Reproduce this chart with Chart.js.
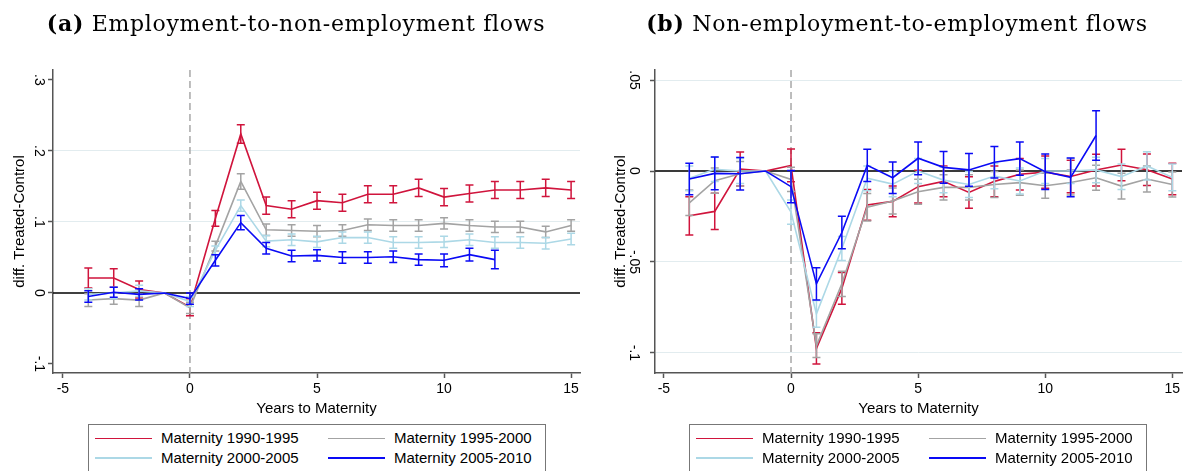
<!DOCTYPE html>
<html>
<head>
<meta charset="utf-8">
<script src="https://cdn.jsdelivr.net/npm/chart.js@4.4.1/dist/chart.umd.min.js"></script>
<style>
  html, body { margin: 0; padding: 0; background: #fff; }
  #wrap { position: relative; width: 1192px; height: 471px; overflow: hidden; background: #fff; }
  canvas { position: absolute; top: 0; }
  .ttl { position: absolute; top: 10px; font-family: "DejaVu Serif", serif; font-size: 22px; letter-spacing: 0.7px;
         white-space: nowrap; transform: translateX(-50%); color: #000; }
  .ttl b { font-weight: bold; }
  .lg { position: absolute; top: 424px; width: 458px; height: 60px; border: 1px solid #777;
        box-sizing: border-box; background: #fff;
        font-family: "Liberation Sans", Arial, sans-serif; font-size: 15px; color: #000; }
  .it { position: absolute; height: 18px; line-height: 18px; white-space: nowrap; }
  .sw { display: inline-block; width: 57px; height: 0; border-top: 1.5px solid; vertical-align: middle;
        margin-right: 9px; position: relative; top: -1px; }
</style>
</head>
<body>
<div id="wrap">
  <canvas id="chartA" width="596" height="471" style="left:0px"></canvas>
  <canvas id="chartB" width="596" height="471" style="left:596px"></canvas>
  <div class="ttl" style="left:296px"><b>(a)</b> Employment-to-non-employment flows</div>
  <div class="ttl" style="left:897px"><b>(b)</b> Non-employment-to-employment flows</div>
  <div class="lg" id="legendA" style="left:88px"></div>
  <div class="lg" id="legendB" style="left:689px"></div>
</div>
<script>
// Event-time grid (years relative to maternity)
const years = [-4, -3, -2, -1, 0, 1, 2, 3, 4, 5, 6, 7, 8, 9, 10, 11, 12, 13, 14, 15];
const seriesLabels = ['Maternity 1990-1995', 'Maternity 1995-2000', 'Maternity 2000-2005', 'Maternity 2005-2010'];
const xTickValues = [-5, 0, 5, 10, 15];

// (a) Employment-to-non-employment: point estimates and 95% CI half-widths
const enEst9095 = [0.021, 0.021, 0.005, 0, -0.020, 0.105, 0.224, 0.123, 0.118, 0.130, 0.127, 0.139, 0.139, 0.148, 0.135, 0.140, 0.145, 0.145, 0.148, 0.145];
const enCi9095  = [0.014, 0.013, 0.012, 0, 0.012, 0.011, 0.013, 0.012, 0.012, 0.012, 0.012, 0.012, 0.012, 0.012, 0.012, 0.012, 0.012, 0.012, 0.012, 0.012];
const enEst9500 = [-0.010, -0.008, -0.010, 0, -0.021, 0.066, 0.157, 0.089, 0.088, 0.087, 0.088, 0.096, 0.095, 0.095, 0.098, 0.095, 0.093, 0.093, 0.086, 0.095];
const enCi9500  = [0.009, 0.008, 0.009, 0, 0.008, 0.007, 0.011, 0.008, 0.008, 0.008, 0.008, 0.008, 0.008, 0.008, 0.008, 0.008, 0.008, 0.008, 0.008, 0.008];
const enEst0005 = [-0.002, 0.000, 0.003, 0, -0.012, 0.060, 0.123, 0.073, 0.075, 0.072, 0.078, 0.078, 0.071, 0.071, 0.072, 0.075, 0.071, 0.071, 0.070, 0.076];
const enCi0005  = [0.008, 0.008, 0.008, 0, 0.007, 0.006, 0.008, 0.008, 0.008, 0.008, 0.008, 0.008, 0.008, 0.008, 0.008, 0.008, 0.008, 0.008, 0.008, 0.008];
const enEst0510 = [-0.005, 0.001, -0.002, 0, -0.008, 0.046, 0.099, 0.063, 0.052, 0.053, 0.050, 0.050, 0.051, 0.047, 0.046, 0.054, 0.047];
const enCi0510  = [0.008, 0.007, 0.008, 0, 0.008, 0.008, 0.010, 0.008, 0.008, 0.008, 0.008, 0.008, 0.008, 0.008, 0.009, 0.009, 0.013];

// (b) Non-employment-to-employment: point estimates and 95% CI half-widths
const neEst9095 = [-0.0246, -0.0222, 0.0011, 0, 0.0031, -0.0975, -0.0645, -0.0186, -0.0167, -0.0086, -0.0057, -0.0118, -0.0057, -0.0018, -0.0006, -0.0030, 0.0005, 0.0033, 0.0007, -0.0044];
const neCi9095  = [0.0105, 0.0100, 0.0093, 0, 0.0090, 0.0086, 0.0087, 0.0085, 0.0085, 0.0090, 0.0085, 0.0087, 0.0085, 0.0087, 0.0089, 0.0089, 0.0087, 0.0086, 0.0087, 0.0087];
const neEst9500 = [-0.0175, -0.0053, -0.0015, 0, -0.0046, -0.0960, -0.0620, -0.0199, -0.0165, -0.0114, -0.0090, -0.0090, -0.0074, -0.0064, -0.0081, -0.0063, -0.0037, -0.0083, -0.0044, -0.0074];
const neCi9500  = [0.0070, 0.0069, 0.0067, 0, 0.0067, 0.0065, 0.0069, 0.0076, 0.0071, 0.0069, 0.0069, 0.0069, 0.0071, 0.0069, 0.0069, 0.0069, 0.0069, 0.0071, 0.0071, 0.0069];
const neEst0005 = [-0.0040, 0.0009, 0.0000, 0, -0.0226, -0.0785, -0.0426, -0.0040, -0.0072, 0.0000, -0.0050, -0.0074, -0.0028, -0.0055, 0.0000, 0.0000, 0.0006, -0.0031, 0.0028, -0.0035];
const neCi0005  = [0.0068, 0.0067, 0.0069, 0, 0.0066, 0.0074, 0.0066, 0.0068, 0.0069, 0.0069, 0.0070, 0.0071, 0.0069, 0.0072, 0.0069, 0.0069, 0.0070, 0.0070, 0.0078, 0.0074];
const neEst0510 = [-0.0044, -0.0013, -0.0015, 0, -0.0086, -0.0620, -0.0338, 0.0031, -0.0037, 0.0070, 0.0020, 0.0006, 0.0048, 0.0068, -0.0004, -0.0035, 0.0195];
const neCi0510  = [0.0087, 0.0090, 0.0089, 0, 0.0089, 0.0089, 0.0089, 0.0089, 0.0087, 0.0090, 0.0087, 0.0090, 0.0087, 0.0092, 0.0097, 0.0107, 0.0136];

const seriesColors = ['#d0143c', '#a3a3a3', '#acd8e6', '#0a0af5'];
const axisFont = '"Liberation Sans", Arial, sans-serif';

// Whiskers with caps for each dataset's confidence interval
const errorBars = {
  id: 'errorBars',
  afterDatasetDraw(chart, args) {
    const ds = chart.data.datasets[args.index];
    if (!ds.ci) return;
    const { ctx, scales: { x, y } } = chart;
    ctx.save();
    ctx.strokeStyle = ds.borderColor;
    ctx.lineWidth = 1.5;
    ds.data.forEach((p, i) => {
      const h = ds.ci[i];
      if (!h) return;
      const px = x.getPixelForValue(p.x);
      const y1 = y.getPixelForValue(p.y - h);
      const y2 = y.getPixelForValue(p.y + h);
      ctx.beginPath();
      ctx.moveTo(px, y1); ctx.lineTo(px, y2);
      ctx.moveTo(px - 4, y1); ctx.lineTo(px + 4, y1);
      ctx.moveTo(px - 4, y2); ctx.lineTo(px + 4, y2);
      ctx.stroke();
    });
    ctx.restore();
  }
};

// Dashed line at the maternity year and the solid zero line
const refLines = {
  id: 'refLines',
  beforeDatasetsDraw(chart, args, opts) {
    const { ctx, chartArea: a, scales: { x, y } } = chart;
    ctx.save();
    const x0 = x.getPixelForValue(0);
    ctx.strokeStyle = '#a8a8a8';
    ctx.lineWidth = 1.5;
    ctx.setLineDash([7, 4]);
    ctx.beginPath(); ctx.moveTo(x0, a.top); ctx.lineTo(x0, a.bottom); ctx.stroke();
    ctx.setLineDash([]);
    const y0 = y.getPixelForValue(0);
    ctx.strokeStyle = opts.zeroColor;
    ctx.lineWidth = opts.zeroWidth;
    ctx.beginPath(); ctx.moveTo(a.left, y0); ctx.lineTo(a.right, y0); ctx.stroke();
    ctx.restore();
  }
};

function stataLabel(v) {
  if (Math.abs(v) < 1e-9) return '0';
  const s = String(+v.toFixed(3));
  return s.replace(/^(-?)0\./, '$1.');
}

function buildChart(id, cfg) {
  const datasets = cfg.series.map((s, k) => ({
    label: seriesLabels[k],
    data: s.est.map((v, i) => ({ x: years[i], y: v })),
    ci: s.ci,
    borderColor: seriesColors[k],
    backgroundColor: seriesColors[k],
    borderWidth: 1.6,
    pointRadius: 0,
    tension: 0,
    order: 3 - k
  }));
  return new Chart(document.getElementById(id), {
    type: 'line',
    data: { datasets },
    plugins: [refLines, errorBars],
    options: {
      responsive: false,
      animation: false,
      devicePixelRatio: 1,
      layout: { padding: { left: 0, top: 70, right: cfg.padRight, bottom: 48 } },
      plugins: {
        legend: { display: false },
        tooltip: { enabled: false },
        refLines: { zeroColor: cfg.zeroColor, zeroWidth: cfg.zeroWidth }
      },
      scales: {
        x: {
          type: 'linear', min: cfg.xMin, max: cfg.xMax,
          afterBuildTicks: sc => { sc.ticks = xTickValues.map(v => ({ value: v })); },
          afterFit: sc => { sc.height = 50; },
          grid: { drawOnChartArea: false, drawTicks: true, tickLength: 5, tickColor: '#555', tickWidth: 1.5 },
          border: { display: true, color: '#555', width: 1.5 },
          ticks: { font: { family: axisFont, size: 14 }, color: '#000', padding: 3, maxRotation: 0, autoSkip: false },
          title: { display: true, text: 'Years to Maternity', color: '#000',
                   font: { family: axisFont, size: 15 }, padding: { top: 0, bottom: 5 } }
        },
        y: {
          type: 'linear', min: cfg.yMin, max: cfg.yMax,
          afterBuildTicks: sc => { sc.ticks = cfg.yTicks.map(v => ({ value: v })); },
          afterFit: sc => { sc.width = cfg.yWidth; },
          grid: {
            color: c => (c.tick && cfg.yGrid.some(g => Math.abs(g - c.tick.value) < 1e-9)) ? '#e2ecef' : 'rgba(0,0,0,0)',
            lineWidth: 1, drawTicks: true, tickLength: 5, tickColor: '#555', tickWidth: 1.5
          },
          border: { display: true, color: '#555', width: 1.5 },
          ticks: { minRotation: -90, maxRotation: -90, crossAlign: 'center', padding: cfg.yTickPad,
                   font: { family: axisFont, size: 14 }, color: '#000', callback: v => stataLabel(v) },
          title: { display: true, text: 'diff. Treated-Control', color: '#000',
                   font: { family: axisFont, size: 15 }, padding: { top: cfg.yTitlePad, bottom: 0 } }
        }
      }
    }
  });
}

buildChart('chartA', {
  series: [
    { est: enEst9095, ci: enCi9095 }, { est: enEst9500, ci: enCi9500 },
    { est: enEst0005, ci: enCi0005 }, { est: enEst0510, ci: enCi0510 }
  ],
  xMin: -5.39, xMax: 15.35, yMin: -0.1127, yMax: 0.314,
  yTicks: [-0.1, 0, 0.1, 0.2, 0.3], yGrid: [0.1, 0.2],
  yWidth: 53, padRight: 16, yTickPad: 1, yTitlePad: 11,
  zeroColor: '#000', zeroWidth: 1.5
});

buildChart('chartB', {
  series: [
    { est: neEst9095, ci: neCi9095 }, { est: neEst9500, ci: neCi9500 },
    { est: neEst0005, ci: neCi0005 }, { est: neEst0510, ci: neCi0510 }
  ],
  xMin: -5.35, xMax: 15.38, yMin: -0.111, yMax: 0.0555,
  yTicks: [-0.1, -0.05, 0, 0.05], yGrid: [-0.1, -0.05, 0.05],
  yWidth: 59, padRight: 10, yTickPad: 4, yTitlePad: 16,
  zeroColor: '#3a3a3a', zeroWidth: 2
});

// Legend boxes: two columns, two rows
function buildLegend(id) {
  const box = document.getElementById(id);
  const cols = [6, 239], rows = [4, 24];
  seriesLabels.forEach((lab, k) => {
    const it = document.createElement('div');
    it.className = 'it';
    it.style.left = cols[k % 2] + 'px';
    it.style.top = rows[Math.floor(k / 2)] + 'px';
    const sw = document.createElement('span');
    sw.className = 'sw';
    sw.style.borderTopColor = seriesColors[k];
    if (k >= 2) sw.style.borderTopWidth = '2px';
    it.appendChild(sw);
    it.appendChild(document.createTextNode(lab));
    box.appendChild(it);
  });
}
buildLegend('legendA');
buildLegend('legendB');
</script>
</body>
</html>
